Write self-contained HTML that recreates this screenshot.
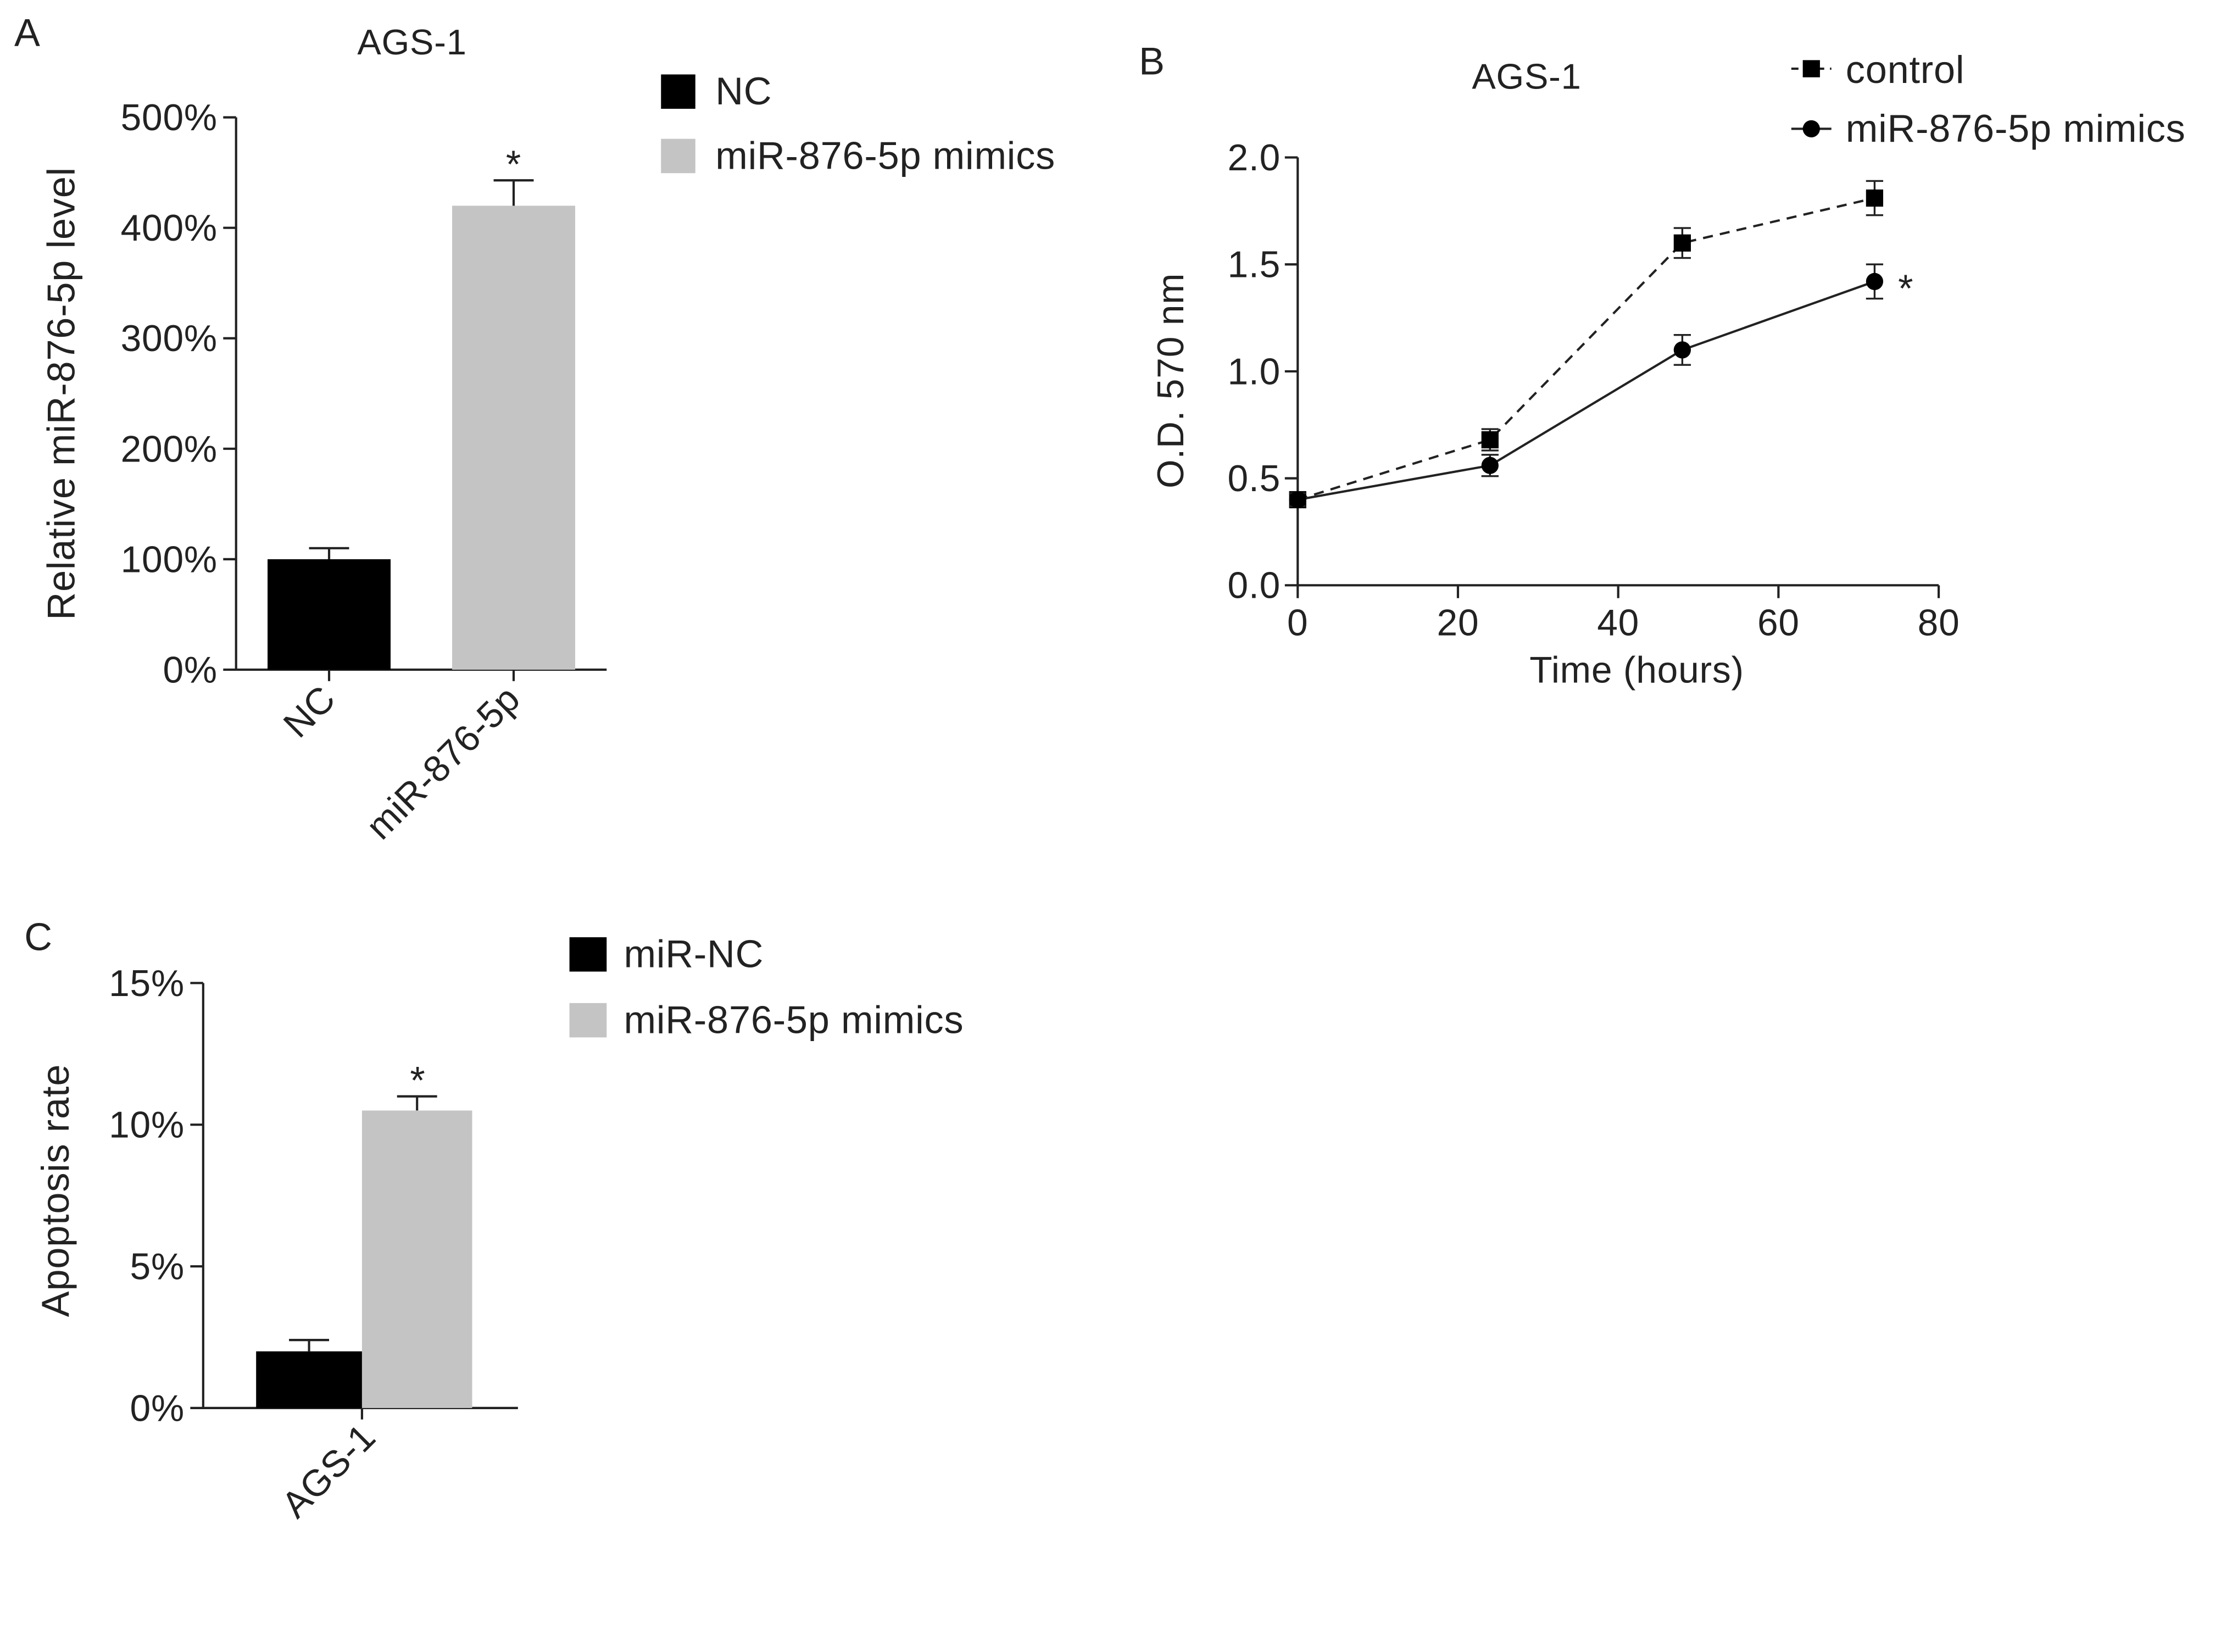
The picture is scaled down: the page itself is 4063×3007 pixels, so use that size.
<!DOCTYPE html>
<html><head><meta charset="utf-8"><style>
html,body{margin:0;padding:0;background:#fff;}
svg{display:block;}
text{font-family:"Liberation Sans",sans-serif;fill:#222;letter-spacing:0.3px;}
</style></head><body>
<svg id="fig" width="4063" height="3007" viewBox="0 0 1560 1154.5" xmlns="http://www.w3.org/2000/svg">
<g id="pa"></g>
<g id="pb"></g>
<g id="pc"></g>
</svg>
<script>
// Panel A data
const aCategories = ["NC", "miR-876-5p"];
const aValues = [100, 420];
const aErrors = [10, 23];
const aTicks = [0, 100, 200, 300, 400, 500];
// Panel B data
const bHours = [0, 24, 48, 72];
const bControl = [0.40, 0.68, 1.60, 1.81];
const bControlErr = [0.03, 0.05, 0.07, 0.08];
const bMimics = [0.40, 0.56, 1.10, 1.42];
const bMimicsErr = [0.03, 0.05, 0.07, 0.08];
const bYTicks = [0.0, 0.5, 1.0, 1.5, 2.0];
const bXTicks = [0, 20, 40, 60, 80];
// Panel C data
const cValues = [2.0, 10.5];
const cErrors = [0.4, 0.5];
const cTicks = [0, 5, 10, 15];

const NS = "http://www.w3.org/2000/svg";
function mk(parent, tag, attrs, txt){
  const e = document.createElementNS(NS, tag);
  for (const k in attrs) e.setAttribute(k, attrs[k]);
  if (txt !== undefined) e.textContent = txt;
  parent.appendChild(e);
  return e;
}
const ST = {stroke:"#222","stroke-width":1.6,fill:"none"};
const FT = 26, FL = 27;

// ---------- Panel A ----------
(function(){
  const g = document.getElementById('pa');
  const x0 = 165, y0 = 468, yTop = 82, xEnd = 424;
  const ya = v => y0 - (v / 500) * (y0 - yTop);
  let t = mk(g,'text',{x:10,y:32,'font-size':27},'A');
   
  t = mk(g,'text',{x:288,y:38,'font-size':25,'text-anchor':'middle'},'AGS-1');
   
  let ax = mk(g,'path',Object.assign({d:`M${x0},${yTop}V${y0}H${xEnd}`},ST));
   
  aTicks.forEach(v=>{
    const y = ya(v);
    mk(g,'line',Object.assign({x1:x0-9,x2:x0,y1:y,y2:y},ST));
    const l = mk(g,'text',{x:152,y:y+9,'font-size':FT,'text-anchor':'end'},v+'%');
     
  });
  const yl = mk(g,'text',{x:0,y:0,'font-size':27,'text-anchor':'middle',transform:'translate(52,275) rotate(-90)'},'Relative miR-876-5p level');
   
  const centers = [230, 359], bw = 86, colors = ['#000','#c4c4c4'];
  aValues.forEach((v,i)=>{
    const cx = centers[i];
    const top = ya(v+aErrors[i]);
    mk(g,'line',Object.assign({x1:cx,x2:cx,y1:ya(v),y2:top},ST));
    mk(g,'line',Object.assign({x1:cx-14,x2:cx+14,y1:top,y2:top},ST));
    const r = mk(g,'rect',{x:cx-bw/2,y:ya(v),width:bw,height:y0-ya(v),fill:colors[i]});
    
    
    mk(g,'line',Object.assign({x1:cx,x2:cx,y1:y0,y2:y0+8},ST));
    const xl = mk(g,'text',{x:0,y:0,'font-size':FT,'text-anchor':'end',transform:`translate(${cx+6},${y0+22}) rotate(-45)`},aCategories[i]);
     
  });
  const s = mk(g,'text',{x:359,y:ya(aValues[1]+aErrors[1])-2,'font-size':27,'text-anchor':'middle'},'*');
   
  const lg = mk(g,'g',{});
   
  mk(lg,'rect',{x:462,y:52,width:24,height:24,fill:'#000'});
  mk(lg,'text',{x:500,y:73,'font-size':FL},'NC');
  mk(lg,'rect',{x:462,y:97,width:24,height:24,fill:'#c4c4c4'});
  mk(lg,'text',{x:500,y:118,'font-size':FL},'miR-876-5p mimics');
})();

// ---------- Panel B ----------
(function(){
  const g = document.getElementById('pb');
  const x0 = 907, xEnd = 1355, y0 = 409, yTop = 110;
  const xs = h => x0 + (h/80)*(xEnd-x0);
  const ys = v => y0 - (v/2)*(y0-yTop);
  let t = mk(g,'text',{x:796,y:52,'font-size':27},'B');
   
  t = mk(g,'text',{x:1067,y:62,'font-size':25,'text-anchor':'middle'},'AGS-1');
   
  const ax = mk(g,'path',Object.assign({d:`M${x0},${yTop}V${y0}H${xEnd}`},ST));
   
  bYTicks.forEach(v=>{
    const y = ys(v);
    mk(g,'line',Object.assign({x1:x0-9,x2:x0,y1:y,y2:y},ST));
    const l = mk(g,'text',{x:895,y:y+9,'font-size':FT,'text-anchor':'end'},v.toFixed(1));
     
  });
  bXTicks.forEach(v=>{
    const x = xs(v);
    mk(g,'line',Object.assign({x1:x,x2:x,y1:y0,y2:y0+9},ST));
    const l = mk(g,'text',{x:x,y:y0+35,'font-size':FT,'text-anchor':'middle'},String(v));
     
  });
  let l = mk(g,'text',{x:1144,y:477,'font-size':FT,'text-anchor':'middle'},'Time (hours)');
   
  l = mk(g,'text',{x:0,y:0,'font-size':FT,'text-anchor':'middle',transform:'translate(827,266) rotate(-90)'},'O.D. 570 nm');
   
  function series(vals, errs, dashed, marker, name){
    const sg = mk(g,'g',{});
     
    const d = vals.map((v,i)=>(i?'L':'M')+xs(bHours[i])+','+ys(v)).join('');
    const p = mk(sg,'path',Object.assign({d:d},ST,dashed?{'stroke-dasharray':'7,5'}:{}));
     
    vals.forEach((v,i)=>{
      const x = xs(bHours[i]);
      const a = ys(v+errs[i]), b = ys(v-errs[i]);
      mk(sg,'path',{d:`M${x},${a}V${b}M${x-6},${a}H${x+6}M${x-6},${b}H${x+6}`,stroke:'#222','stroke-width':1.3,fill:'none'});
      let m;
      if (marker==='sq') m = mk(sg,'rect',{x:x-6,y:ys(v)-6,width:12,height:12,fill:'#000'});
      else m = mk(sg,'circle',{cx:x,cy:ys(v),r:6,fill:'#000'});
       
    });
  }
  series(bControl,bControlErr,true,'sq','control-series');
  series(bMimics,bMimicsErr,false,'ci','mimics-series');
  const s = mk(g,'text',{x:1332,y:ys(bMimics[3])+14,'font-size':27,'text-anchor':'middle'},'*');
   
  const lg = mk(g,'g',{});
   
  mk(lg,'line',Object.assign({x1:1252,x2:1280,y1:48,y2:48,'stroke-dasharray':'5,4'},ST));
  mk(lg,'rect',{x:1260,y:42,width:12,height:12,fill:'#000'});
  mk(lg,'text',{x:1290,y:58,'font-size':FL},'control');
  mk(lg,'line',Object.assign({x1:1252,x2:1280,y1:90,y2:90},ST));
  mk(lg,'circle',{cx:1266,cy:90,r:6,fill:'#000'});
  mk(lg,'text',{x:1290,y:99,'font-size':FL},'miR-876-5p mimics');
})();

// ---------- Panel C ----------
(function(){
  const g = document.getElementById('pc');
  const x0 = 142, xEnd = 362, y0 = 984, yTop = 687;
  const yc = v => y0 - (v/15)*(y0-yTop);
  let t = mk(g,'text',{x:17,y:664,'font-size':27},'C');
   
  const ax = mk(g,'path',Object.assign({d:`M${x0},${yTop}V${y0}H${xEnd}`},ST));
   
  cTicks.forEach(v=>{
    const y = yc(v);
    mk(g,'line',Object.assign({x1:x0-9,x2:x0,y1:y,y2:y},ST));
    const l = mk(g,'text',{x:129,y:y+9,'font-size':FT,'text-anchor':'end'},v+'%');
     
  });
  let l = mk(g,'text',{x:0,y:0,'font-size':27,'text-anchor':'middle',transform:'translate(48,832) rotate(-90)'},'Apoptosis rate');
   
  const lefts = [179,253], widths=[74,77], colors=['#000','#c4c4c4'], names=['bar-mir-nc','bar-mimics'];
  cValues.forEach((v,i)=>{
    const cx = lefts[i]+widths[i]/2;
    const top = yc(v+cErrors[i]);
    mk(g,'line',Object.assign({x1:cx,x2:cx,y1:yc(v),y2:top},ST));
    mk(g,'line',Object.assign({x1:cx-14,x2:cx+14,y1:top,y2:top},ST));
    const r = mk(g,'rect',{x:lefts[i],y:yc(v),width:widths[i],height:y0-yc(v),fill:colors[i]});
     
  });
  mk(g,'line',Object.assign({x1:253,x2:253,y1:y0,y2:y0+8},ST));
  l = mk(g,'text',{x:0,y:0,'font-size':FT,'text-anchor':'end',transform:`translate(264,1006) rotate(-45)`},'AGS-1');
   
  const s = mk(g,'text',{x:292,y:yc(cValues[1]+cErrors[1])-2,'font-size':27,'text-anchor':'middle'},'*');
   
  const lg = mk(g,'g',{});
   
  mk(lg,'rect',{x:398,y:655,width:26,height:24,fill:'#000'});
  mk(lg,'text',{x:436,y:676,'font-size':FL},'miR-NC');
  mk(lg,'rect',{x:398,y:701,width:26,height:24,fill:'#c4c4c4'});
  mk(lg,'text',{x:436,y:722,'font-size':FL},'miR-876-5p mimics');
})();
</script>
</body></html>
